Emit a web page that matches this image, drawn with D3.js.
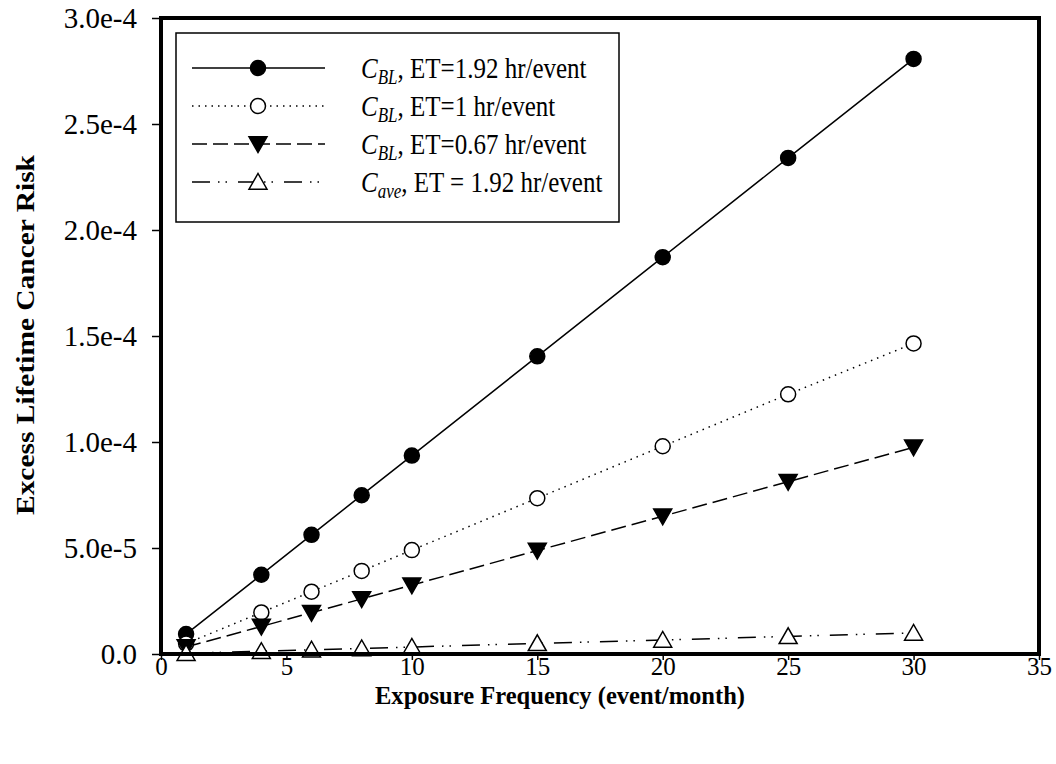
<!DOCTYPE html>
<html><head><meta charset="utf-8">
<script src="https://cdn.jsdelivr.net/npm/d3@7/dist/d3.min.js"></script>
<style>body{margin:0;background:#fff;} text{font-family:"Liberation Serif","Times New Roman",serif;}</style>
</head><body>
<svg id="c" width="1056" height="764"></svg>
<script>
const xValues = [1, 4, 6, 8, 10, 15, 20, 25, 30];
const cblET192 = [9.4e-6, 3.74e-5, 5.62e-5, 7.49e-5, 9.36e-5, 1.404e-4, 1.872e-4, 2.34e-4, 2.807e-4];
const cblET1   = [4.9e-6, 1.96e-5, 2.94e-5, 3.92e-5, 4.9e-5, 7.35e-5, 9.8e-5, 1.225e-4, 1.465e-4];
const cblET067 = [3.3e-6, 1.3e-5, 1.95e-5, 2.6e-5, 3.25e-5, 4.88e-5, 6.5e-5, 8.13e-5, 9.75e-5];
const caveET192 = [3.3e-7, 1.3e-6, 2.0e-6, 2.6e-6, 3.3e-6, 5.0e-6, 6.6e-6, 8.3e-6, 9.9e-6];
const xTicks = [0, 5, 10, 15, 20, 25, 30, 35];
const yTicks = [0, 5e-5, 1e-4, 1.5e-4, 2e-4, 2.5e-4, 3e-4];
const yTickLabels = ["0.0", "5.0e-5", "1.0e-4", "1.5e-4", "2.0e-4", "2.5e-4", "3.0e-4"];
const seriesNames = [["C","BL",", ET=1.92 hr/event"],["C","BL",", ET=1 hr/event"],["C","BL",", ET=0.67 hr/event"],["C","ave",", ET = 1.92 hr/event"]];

const SY = 1.2; // vertical stretch of text seen in reference
const FS = 25;
const svg = d3.select("#c");
const L = 161, R = 1039, T = 18, B = 654;
const x = d3.scaleLinear().domain([0, 35]).range([L, R]);
const y = d3.scaleLinear().domain([0, 3e-4]).range([B, T]);

const series = [
  {vals: cblET192, dash: null, marker: "circle", fill: "#000"},
  {vals: cblET1, dash: "1.5,5", marker: "circle", fill: "#fff"},
  {vals: cblET067, dash: "15,6", marker: "down", fill: "#000"},
  {vals: caveET192, dash: "18,8,1.5,6,1.5,11", marker: "up", fill: "#fff"}
];

// axes
const xAxis = d3.axisBottom(x).tickValues(xTicks).tickSize(6).tickFormat(d3.format("d"));
const yAxis = d3.axisLeft(y).tickValues(yTicks).tickSize(9).tickFormat((d,i)=>yTickLabels[i]);
const gx = svg.append("g").attr("transform",`translate(0,${B})`).call(xAxis);
const gy = svg.append("g").attr("transform",`translate(${L},0)`).call(yAxis);
[gx, gy].forEach(g=>{
  g.select(".domain").remove();
  g.selectAll(".tick line").attr("stroke","#000").attr("stroke-width",1.5);
  g.selectAll(".tick text").attr("fill","#000").style("font-family","'Liberation Serif',serif");
});
gx.selectAll(".tick text").attr("font-size",25).attr("dy",null).attr("y",21);
gy.selectAll(".tick text").attr("font-size",29).attr("x",-24).attr("dy","0.34em");

function marker(g, type, cx, cy, fill){
  if(type==="circle"){
    g.append("circle").attr("cx",cx).attr("cy",cy).attr("r",7.5).attr("fill",fill).attr("stroke","#000").attr("stroke-width",1.5);
  } else if(type==="down"){
    const s=9;
    g.append("path").attr("d",`M${cx-s},${cy-s*0.8}L${cx+s},${cy-s*0.8}L${cx},${cy+s*0.95}Z`).attr("fill",fill).attr("stroke","#000").attr("stroke-width",1.5);
  } else {
    const s=9;
    g.append("path").attr("d",`M${cx-s},${cy+s*0.8}L${cx+s},${cy+s*0.8}L${cx},${cy-s*0.95}Z`).attr("fill",fill).attr("stroke","#000").attr("stroke-width",1.5);
  }
}

const line = d3.line().x((d,i)=>x(xValues[i])).y(d=>y(d));
const plot = svg.append("g");
series.forEach(s=>{
  plot.append("path").datum(s.vals).attr("d",line).attr("fill","none").attr("stroke","#000").attr("stroke-width",1.5)
    .attr("stroke-dasharray", s.dash);
});
series.forEach(s=>{
  s.vals.forEach((v,i)=>marker(plot, s.marker, x(xValues[i]), y(v), s.fill));
});

// frame
svg.append("rect").attr("x",L).attr("y",T).attr("width",R-L).attr("height",B-T).attr("fill","none").attr("stroke","#000").attr("stroke-width",4);

// legend
const lg = svg.append("g");
lg.append("rect").attr("x",176).attr("y",33).attr("width",443).attr("height",189).attr("fill","#fff").attr("stroke","#000").attr("stroke-width",1.5);
const rowsY = [68, 106, 144, 182];
series.forEach((s,i)=>{
  const yy = rowsY[i];
  lg.append("line").attr("x1",192).attr("x2",325).attr("y1",yy).attr("y2",yy).attr("stroke","#000").attr("stroke-width",1.5).attr("stroke-dasharray",s.dash);
  marker(lg, s.marker, 258, yy, s.fill);
  const t = lg.append("text").attr("transform",`translate(361,${yy}) scale(1,${SY})`).attr("y",8.5).attr("font-size",FS).attr("fill","#000");
  t.append("tspan").attr("font-style","italic").text(seriesNames[i][0]);
  t.append("tspan").attr("font-style","italic").attr("font-size",17).attr("dy",5).text(seriesNames[i][1]);
  t.append("tspan").attr("dy",-5).text(seriesNames[i][2]);
});

// titles
svg.append("text").attr("x",560).attr("y",704).attr("text-anchor","middle").attr("font-size",26).attr("font-weight","bold")
  .attr("textLength",370).attr("lengthAdjust","spacingAndGlyphs").text("Exposure Frequency (event/month)");
svg.append("text").attr("transform",`translate(34,335) rotate(-90)`).attr("text-anchor","middle").attr("font-size",FS).attr("font-weight","bold")
  .attr("textLength",360).attr("lengthAdjust","spacingAndGlyphs").text("Excess Lifetime Cancer Risk");
</script>
</body></html>
